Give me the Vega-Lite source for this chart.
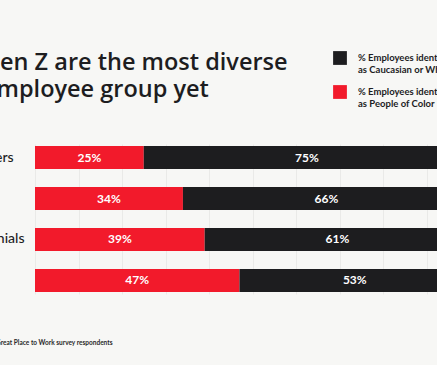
{
  "$schema": "https://vega.github.io/schema/vega-lite/v6.json",
  "width": 402,
  "height": 150,
  "autosize": {"type": "none"},
  "padding": {"left": 35, "top": 144, "right": 0, "bottom": 71},
  "background": "#f7f7f5",
  "config": {"view": {"stroke": null}, "font": "Lato"},
  "title": {
    "text": ["Gen Z are the most diverse", "employee group yet"],
    "anchor": "start",
    "frame": "group",
    "dx": -52,
    "dy": 50,
    "offset": 0,
    "fontSize": 23.5,
    "fontWeight": 600,
    "font": "Open Sans",
    "color": "#1d1d1f",
    "lineHeight": 27
  },
  "data": {
    "values": [
      {"cat": "Boomers", "group": "% Employees identifying as People of Color", "pct": 25},
      {"cat": "Boomers", "group": "% Employees identifying as Caucasian or White", "pct": 75},
      {"cat": "Gen X", "group": "% Employees identifying as People of Color", "pct": 34},
      {"cat": "Gen X", "group": "% Employees identifying as Caucasian or White", "pct": 66},
      {"cat": "Millennials", "group": "% Employees identifying as People of Color", "pct": 39},
      {"cat": "Millennials", "group": "% Employees identifying as Caucasian or White", "pct": 61},
      {"cat": "Gen Z", "group": "% Employees identifying as People of Color", "pct": 47},
      {"cat": "Gen Z", "group": "% Employees identifying as Caucasian or White", "pct": 53}
    ]
  },
  "transform": [
    {"stack": "pct", "groupby": ["cat"], "sort": [{"field": "group", "order": "descending"}], "as": ["s0", "s1"]},
    {"calculate": "(datum.s0 + datum.s1) / 2", "as": "mid"},
    {"calculate": "datum.pct + '%'", "as": "lbl"}
  ],
  "encoding": {
    "y": {
      "field": "cat",
      "type": "nominal",
      "sort": null,
      "scale": {"paddingInner": 0.44, "paddingOuter": 0.05},
      "axis": {
        "title": null,
        "domain": false,
        "ticks": false,
        "labelAlign": "left",
        "labelPadding": 77,
        "labelFontSize": 14,
        "labelFontWeight": 500,
        "labelColor": "#1d1d1f",
        "labelFont": "Lato"
      }
    }
  },
  "layer": [
    {
      "mark": {"type": "bar", "clip": true},
      "encoding": {
        "x": {
          "field": "s0",
          "type": "quantitative",
          "scale": {"domain": [0, 92.4], "nice": false},
          "axis": {
            "values": [0, 10, 20, 30, 40, 50, 60, 70, 80, 90],
            "grid": true,
            "gridColor": "#eaeae8",
            "gridWidth": 1,
            "domain": false,
            "ticks": false,
            "labels": false,
            "title": "Source: Great Place to Work survey respondents",
            "titleAlign": "right",
            "titleAnchor": null,
            "titleX": 77,
            "titleY": 48,
            "titleBaseline": "middle",
            "titleFontSize": 6.5,
            "titleFontWeight": "bold",
            "titleColor": "#2a2a2a",
            "titleFont": "Lato"
          }
        },
        "x2": {"field": "s1"},
        "color": {
          "field": "group",
          "type": "nominal",
          "scale": {
            "domain": ["% Employees identifying as Caucasian or White", "% Employees identifying as People of Color"],
            "range": ["#1d1d1f", "#f21a2b"]
          },
          "legend": {
            "title": null,
            "orient": "none",
            "legendX": 298,
            "legendY": -93,
            "symbolType": "square",
            "symbolSize": 190,
            "symbolStrokeWidth": 0,
            "rowPadding": 11,
            "labelOffset": 11,
            "labelFontSize": 9.5,
            "labelFontWeight": "bold",
            "labelColor": "#1d1d1f",
            "labelFont": "Lato",
            "labelLimit": 300,
            "labelExpr": "[slice(datum.label, 0, 23), slice(datum.label, 24)]"
          }
        }
      }
    },
    {
      "mark": {"type": "text", "color": "white", "fontSize": 12, "fontWeight": "bold", "font": "Lato"},
      "encoding": {
        "x": {"field": "mid", "type": "quantitative"},
        "text": {"field": "lbl"}
      }
    }
  ]
}
